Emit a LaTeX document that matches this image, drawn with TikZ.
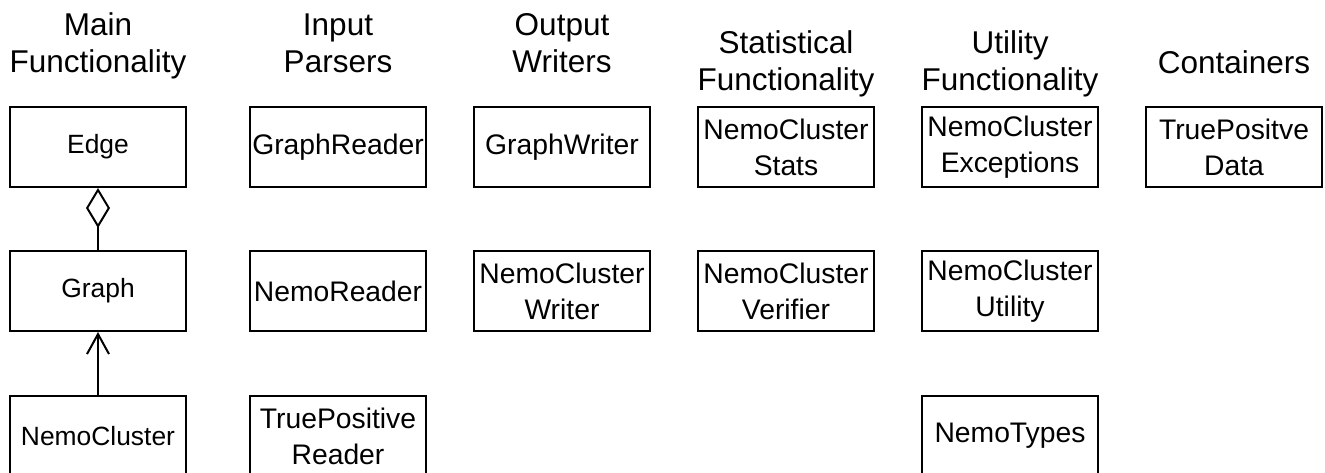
\documentclass[tikz,border=0pt]{standalone}
\usepackage{fontspec}
\setmainfont{Liberation Sans}
\usetikzlibrary{arrows.meta,positioning}

\begin{document}
\begin{tikzpicture}[x=0.5pt, y=-0.5pt,
    classbox/.style={draw, line width=1pt, minimum width=88pt, minimum height=40pt,
      inner sep=0pt, align=center, font=\fontsize{14.15}{18}\selectfont},
    mainbox/.style={classbox, font=\fontsize{13.2}{18}\selectfont},
    header/.style={align=center, anchor=base, inner sep=0pt,
      font=\fontsize{15.75}{18.5}\selectfont}]

  % Page frame (pixel units of the sketch)
  \useasboundingbox (0,0) rectangle (1325,472);

  % Column headers (anchored at the baseline of their last line)
  \node[header] (hmain)   at (98,72)   {Main\\Functionality};
  \node[header] (hinput)  at (338,72)  {Input\\Parsers};
  \node[header] (houtput) at (562,72)  {Output\\Writers};
  \node[header] (hstat)   at (786,90)  {Statistical\\Functionality};
  \node[header] (hutil)   at (1010,90) {Utility\\Functionality};
  \node[header] (hcont)   at (1234,73) {Containers};

  % Main functionality
  \node[mainbox] (edge)        at (98,147) {Edge};
  \node[mainbox] (graph)       at (98,291) {Graph};
  \node[mainbox] (nemocluster) at (98,436) {NemoCluster};

  % Input parsers
  \node[classbox] (graphreader) at (338,147) {GraphReader};
  \node[classbox] (nemoreader)  at (338,291) {NemoReader};
  \node[classbox] (tpreader)    at (338,436) {TruePositive\\Reader};

  % Output writers
  \node[classbox] (graphwriter) at (562,147) {GraphWriter};
  \node[classbox] (ncwriter)    at (562,291) {NemoCluster\\Writer};

  % Statistical functionality
  \node[classbox] (ncstats)    at (786,147) {NemoCluster\\Stats};
  \node[classbox] (ncverifier) at (786,291) {NemoCluster\\Verifier};

  % Utility functionality
  \node[classbox] (ncexceptions) at (1010,147) {NemoCluster\\Exceptions};
  \node[classbox] (ncutility)    at (1010,291) {NemoCluster\\Utility};
  \node[classbox] (nemotypes)    at (1010,436) {NemoTypes};

  % Containers
  \node[classbox] (tpdata) at (1234,147) {TruePositve\\Data};

  % Aggregation and inheritance
  \draw[line width=1pt, {Diamond[open, length=20pt, width=12pt]}-] (edge) -- (graph);
  \draw[line width=1pt, -{Straight Barb[length=10pt, width=11pt]}] (nemocluster) -- (graph);

\end{tikzpicture}
\end{document}
